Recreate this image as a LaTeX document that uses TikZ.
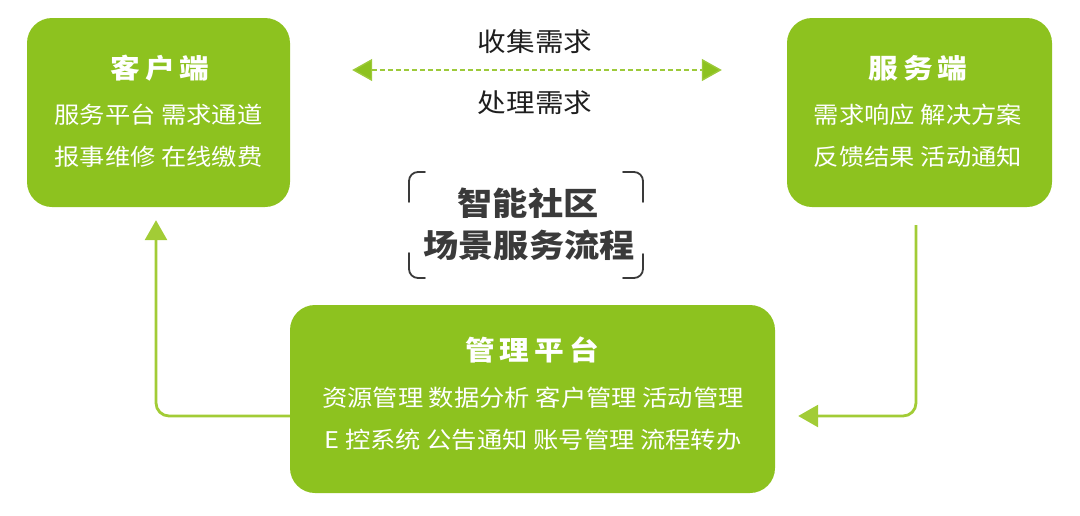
\documentclass[tikz,border=0pt]{standalone}
\usepackage{fontspec}
\setmainfont{Noto Sans CJK SC}[FakeStretch=1.1]
\usetikzlibrary{arrows.meta}
\definecolor{boxgreen}{HTML}{8DC21F}
\definecolor{arrowgreen}{HTML}{A2CC36}
\definecolor{dashgreen}{HTML}{9DCA3A}
\definecolor{titlegray}{HTML}{3A3A3A}
\definecolor{textblack}{HTML}{1E1E1E}
\newcommand{\tsp}{\hspace{5pt}}
\begin{document}
\begin{tikzpicture}[x=1pt,y=-1pt,
  gbox/.style={draw=none,fill=boxgreen,rounded corners=25pt,inner sep=0pt},
  boxtitle/.style={text=white,font=\fontsize{27}{31}\selectfont\bfseries,inner sep=0pt,anchor=center},
  boxline/.style={text=white,font=\fontsize{23}{27}\selectfont,inner sep=0pt,anchor=center},
  midtext/.style={text=textblack,font=\fontsize{26}{30}\selectfont,inner sep=0pt,anchor=center},
  centertitle/.style={text=titlegray,font=\fontsize{32}{36}\selectfont\bfseries,inner sep=0pt,anchor=center},
  flow/.style={draw=arrowgreen,line width=2.8pt,rounded corners=13pt,-{Triangle[width=22pt,length=20pt]}},
  bracket/.style={draw=titlegray,line width=1.8pt,rounded corners=9pt,line cap=round}
]
\path[use as bounding box] (0,0) rectangle (1080,515);

% boxes
\node[gbox,minimum width=263pt,minimum height=189pt] (client) at (158.5,112.5) {};
\node[gbox,minimum width=265pt,minimum height=189pt] (server) at (919.5,112.5) {};
\node[gbox,minimum width=485pt,minimum height=188pt] (mgmt) at (532.5,399) {};

% client text
\node[boxtitle] (ct) at (160,68) {客\tsp 户\tsp 端};
\node[boxline] (c1) at (158.5,115) {服务平台 需求通道};
\node[boxline] (c2) at (158.5,157) {报事维修 在线缴费};

% server text
\node[boxtitle] (st) at (918,68) {服\tsp 务\tsp 端};
\node[boxline] (s1) at (918,115) {需求响应 解决方案};
\node[boxline] (s2) at (918,157) {反馈结果 活动通知};

% management text
\node[boxtitle] (mt) at (532,350) {管\tsp 理\tsp 平\tsp 台};
\node[boxline] (m1) at (533,398) {资源管理 数据分析 客户管理 活动管理};
\node[boxline] (m2) at (533,440) {E 控系统 公告通知 账号管理 流程转办};

% middle labels
\node[midtext] (collect) at (535,42) {收集需求};
\node[midtext] (handle) at (535,103) {处理需求};

% center title
\node[centertitle] (ct1) at (528,203) {智能社区};
\node[centertitle] (ct2) at (529,245) {场景服务流程};

% brackets
\path[bracket] (425,172) -- (409,172) -- (409,202);
\path[bracket] (409,253) -- (409,278) -- (425,278);
\path[bracket] (623,172) -- (643,172) -- (643,202);
\path[bracket] (643,254) -- (643,278) -- (623,278);

% dashed double arrow
\draw[draw=dashgreen,line width=1.4pt,dash pattern=on 5pt off 3pt,
  {Triangle[width=22pt,length=20pt,fill=boxgreen,sep=0pt]}-{Triangle[width=22pt,length=20pt,fill=boxgreen]},
  shorten <=62pt,shorten >=65pt]
  ([yshift=42.5pt]client.east) -- ([yshift=42.5pt]server.west);

% flow arrows
\draw[flow,shorten >=13pt] ([yshift=-17pt]mgmt.west) -| ([xshift=-2.5pt]client.south);
\draw[flow,shorten <=18pt,shorten >=23pt] ([xshift=-3.5pt]server.south) |- ([yshift=-17pt]mgmt.east);
\end{tikzpicture}
\end{document}
